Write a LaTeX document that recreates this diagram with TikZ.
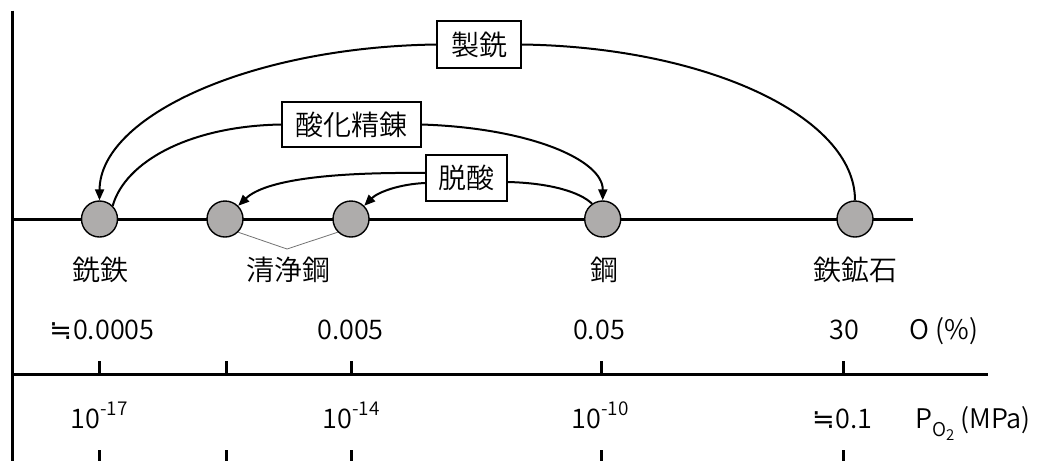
\documentclass[tikz,border=0pt]{standalone}
\usepackage{fontspec}
\setmainfont{Noto Sans CJK JP}[UprightFont=* DemiLight]
\newfontfamily\symf{DejaVu Sans}
\usetikzlibrary{arrows.meta}
\definecolor{cfill}{RGB}{174,172,171}
\newcommand{\approxeq}{{\symf ≒}\kern1pt}
\begin{document}
\begin{tikzpicture}[x=1pt,y=-1pt,
  ax/.style={line width=3pt},
  dot/.style={circle,draw,line width=1.4pt,fill=cfill,minimum size=36pt,inner sep=0pt},
  proc/.style={draw,line width=1.2pt,fill=white,inner sep=0pt,font=\fontsize{28}{30}\selectfont},
  flow/.style={line width=2pt},
  arr/.style={flow,-{Triangle[length=11pt,width=9pt]}},
  lbl/.style={font=\fontsize{28}{30}\selectfont},
  num/.style={font=\fontsize{27}{30}\selectfont,anchor=base},
  thin/.style={draw=black!55,line width=0.8pt}
]
\useasboundingbox (0,0) rectangle (1059,461);
% axes
\draw[ax] (12.7,10.7) -- (12.7,461);
\draw[ax] (12.7,219) -- (913,219);
\draw[ax] (12.7,374) -- (988,374);
\foreach \t in {99,226,351,601,843}{
  \draw[ax] (\t,361) -- (\t,374);
  \draw[ax] (\t,450) -- (\t,461);
}
% circles
\node[dot] (c1) at (99.5,219) {};
\node[dot] (c2) at (225,219) {};
\node[dot] (c3) at (351,219) {};
\node[dot] (c4) at (602.7,219) {};
\node[dot] (c5) at (855,219) {};
% process boxes
\node[proc,minimum width=84pt,minimum height=47pt] (b1) at (479,44.5) {製銑};
\node[proc,minimum width=139pt,minimum height=45pt] (b2) at (351.5,124.5) {酸化精錬};
\node[proc,minimum width=81pt,minimum height=46pt] (b3) at (466.5,178) {脱酸};
% flows
\draw[flow] (c5.north) .. controls (855,116) and (705,47) .. (b1.east);
\draw[arr] (b1.west) .. controls (251,47) and (100,116) .. (c1.north);
\draw[flow] (c1.45) .. controls (125,162) and (189,126) .. (b2.west);
\draw[arr] (b2.east) .. controls (530,128) and (603,160) .. (c4.north);
\draw[flow] (c4.125) .. controls (580,192) and (550,183) .. ([yshift=-4pt]b3.east);
\draw[arr] ([yshift=5pt]b3.west) .. controls (330,172) and (265,180) .. (c2.45);
\draw[arr] ([yshift=-5pt]b3.west) .. controls (400,184) and (378,192) .. (c3.45);
% material labels
\coordinate (apex) at (287,249);
\draw[thin] (c2.-45) -- (apex) -- (c3.-135);
\node[lbl] (l1) at (100,270) {銑鉄};
\node[lbl] (l2) at (288,270) {清浄鋼};
\node[lbl] (l3) at (604,270) {鋼};
\node[lbl] (l4) at (855,270) {鉄鉱石};
% O % row
\node[num] (o1) at (102,339) {\approxeq0.0005};
\node[num] (o2) at (350.5,339) {0.005};
\node[num] (o3) at (599,339) {0.05};
\node[num] (o4) at (844,339) {30};
\node[num] (o5) at (944,339) {O (\%)};
% pressure row
\node[num] (p1) at (99,428) {10\raisebox{0.45em}{\fontsize{19}{19}\selectfont -17}};
\node[num] (p2) at (351,428) {10\raisebox{0.45em}{\fontsize{19}{19}\selectfont -14}};
\node[num] (p3) at (600,428) {10\raisebox{0.45em}{\fontsize{19}{19}\selectfont -10}};
\node[num] (p4) at (842.5,428) {\approxeq0.1};
\node[num] (p5) at (973,428) {P\raisebox{-0.3em}{\fontsize{19}{19}\selectfont O\raisebox{-0.25em}{\fontsize{15}{15}\selectfont 2}} (MPa)};
\end{tikzpicture}
\end{document}
